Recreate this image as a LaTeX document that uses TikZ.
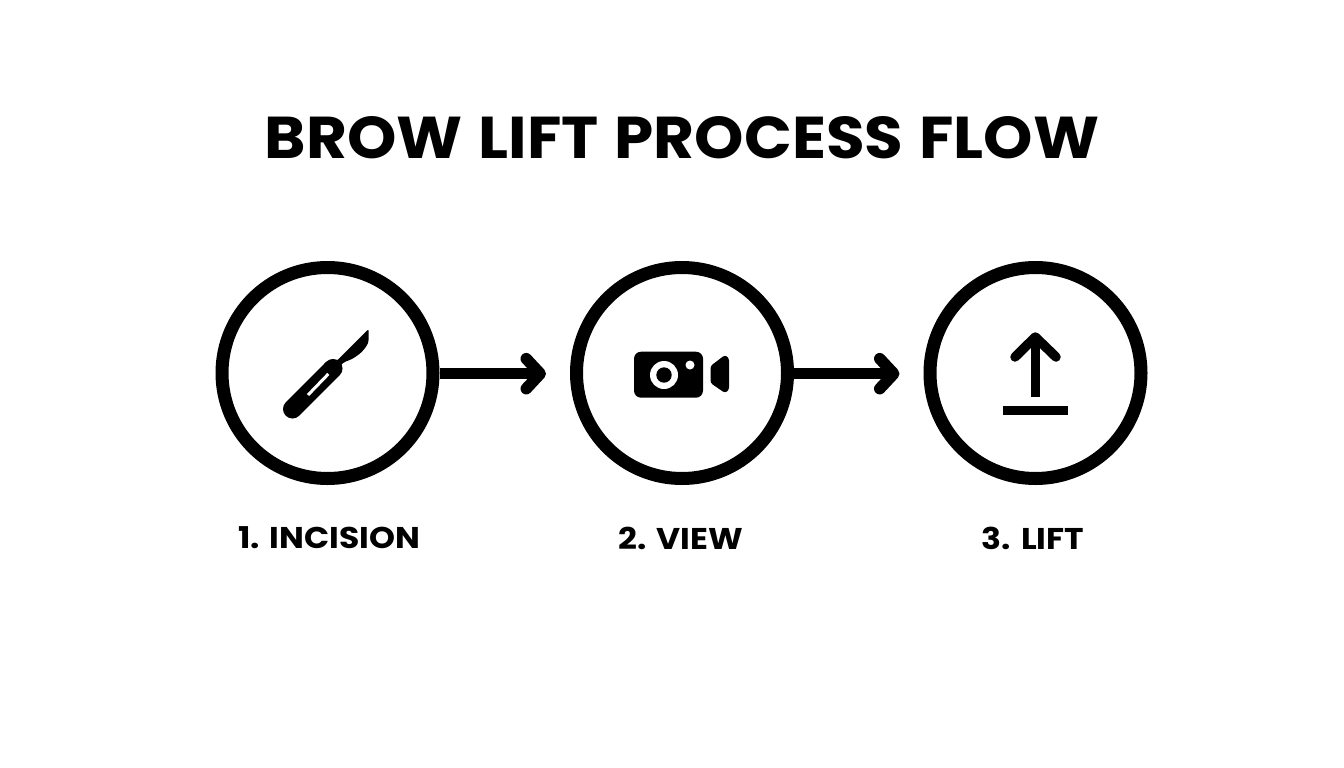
\documentclass[tikz,border=0pt]{standalone}
\usepackage{fontspec}
\setmainfont{Poppins}[BoldFont={* Bold},UprightFont={* Bold}]
\newfontfamily\titlefont{Poppins Bold}[FakeStretch=1.065,WordSpace=1.2]
\newfontfamily\labelfont{Poppins Bold}[FakeStretch=1.1,WordSpace=1.1]
\usetikzlibrary{arrows.meta}
\tikzset{
  stepring/.style={circle,draw=black,line width=13pt,minimum size=211pt,inner sep=0pt,fill=white},
  flow/.style={line width=11.5pt,-{Straight Barb[length=14pt,width=30pt,round]},shorten >=24pt},
  titletext/.style={font=\titlefont\fontsize{59}{63}\selectfont,inner sep=0pt},
  steptext/.style={font=\labelfont\fontsize{30}{36}\selectfont,inner sep=0pt}
}
\begin{document}
\begin{tikzpicture}[x=1pt,y=-1pt]
\useasboundingbox (0,0) rectangle (1344,768);
\fill[white] (0,0) rectangle (1344,768);
\node[titletext] (title) at (682,138) {BROW LIFT PROCESS FLOW};
\node[stepring] (c1) at (327.5,373) {};
\node[stepring] (c2) at (682,373) {};
\node[stepring] (c3) at (1035.5,373) {};
\draw[flow] ([yshift=-.7pt]c1.east) -- ([yshift=-.7pt]c2.west);
\draw[flow] ([yshift=-.7pt]c2.east) -- ([yshift=-.7pt]c3.west);
\node[steptext] (l1) at (329,538) {1. INCISION};
\node[steptext] (l2) at (681,538) {2. VIEW};
\node[steptext] (l3) at (1033,538) {3. LIFT};
% scalpel
\draw[black,line width=19pt,line cap=round] (292.5,409) -- (333,368.5);
\fill[black,rounded corners=2pt] (368.7,329) -- (368.7,341.5) .. controls (364,352) and (354,359) .. (344,362) -- (340,366) -- (341,373) -- (335,379) -- (323,365) -- (327,361) -- (332,361) -- (336.7,361) -- cycle;
\draw[white,line width=3pt] (328.3,374) -- (308,395);
% camera
\fill[black,rounded corners=7pt] (634,351.7) rectangle (703,397.7);
\fill[white] (664,375) circle (14);
\fill[black] (664,375) circle (7.7);
\fill[white] (690,365) circle (4.5);
\fill[black,rounded corners=2.5pt] (710.5,366) -- (725,355) -- (729,358) -- (729,390) -- (725,393) -- (710.5,383) -- cycle;
% lift
\draw[black,line width=9.5pt] (1035.3,397) -- (1035.3,340);
\draw[black,line width=9.5pt,line cap=round,line join=round] (1015,357) -- (1035.3,337) -- (1056,357);
\fill[black] (1002.7,406) rectangle (1068,415.3);
\end{tikzpicture}
\end{document}
